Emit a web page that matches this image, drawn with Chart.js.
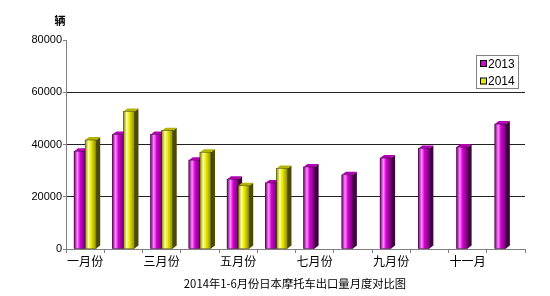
<!DOCTYPE html>
<html><head><meta charset="utf-8">
<script src="https://cdn.jsdelivr.net/npm/chart.js@4/dist/chart.umd.min.js"></script>
<style>html,body{margin:0;padding:0;background:#fff}#wrap{width:550px;height:296px;position:relative}</style>
</head><body><div id="wrap"><canvas id="c" width="550" height="296"></canvas></div>
<script>
const months = ['一月份','二月份','三月份','四月份','五月份','六月份','七月份','八月份','九月份','十月份','十一月','十二月'];
const sales2013 = [37400, 43800, 43800, 34000, 26700, 25300, 31400, 28400, 34800, 38500, 39000, 47800];
const sales2014 = [41700, 52600, 45300, 37000, 24200, 30800, null, null, null, null, null, null];
const yTicks = [0, 20000, 40000, 60000, 80000];
const unitLabel = '辆';
const chartTitle = '2014年1-6月份日本摩托车出口量月度对比图';
const seriesNames = ['2013', '2014'];

const palettes = [
  {base:'#d400d4', dark:'#700070', light:'#ff8cff', side:'#420042', top:'#b000b0'},
  {base:'#eaea00', dark:'#8a8a00', light:'#ffffa0', side:'#4a4a00', top:'#b4b400'}
];

const bar3d = {
  id:'bar3d',
  afterDatasetsDraw(chart){
    const ctx = chart.ctx;
    const metas = [chart.getDatasetMeta(0), chart.getDatasetMeta(1)];
    const d = 4, dv = 3;
    for (let i = 0; i < months.length; i++) {
      for (let s = 0; s < 2; s++) {
        const el = metas[s].data[i];
        const v = chart.data.datasets[s].data[i];
        if (!el || v === null || v === undefined) continue;
        const p = el.getProps(['x','y','base','width'], true);
        const l = p.x - p.width/2, r = p.x + p.width/2, t = p.y, b = p.base;
        const pal = palettes[s];
        ctx.fillStyle = pal.side;
        ctx.beginPath();
        ctx.moveTo(r, t); ctx.lineTo(r+d, t-dv); ctx.lineTo(r+d, b-dv); ctx.lineTo(r, b); ctx.closePath(); ctx.fill();
        ctx.fillStyle = pal.top;
        ctx.beginPath();
        ctx.moveTo(l, t); ctx.lineTo(l+d, t-dv); ctx.lineTo(r+d, t-dv); ctx.lineTo(r, t); ctx.closePath(); ctx.fill();
        const g = ctx.createLinearGradient(l, 0, r, 0);
        g.addColorStop(0, pal.dark);
        g.addColorStop(0.3, pal.light);
        g.addColorStop(0.55, pal.base);
        g.addColorStop(1, pal.dark);
        ctx.fillStyle = g;
        ctx.fillRect(l, t, r-l, b-t);
        ctx.strokeStyle = 'rgba(0,0,0,0.6)';
        ctx.lineWidth = 0.6;
        ctx.strokeRect(l, t, r-l, b-t);
      }
    }
  }
};

const decor = {
  id:'decor',
  afterDraw(chart){
    const ctx = chart.ctx;
    ctx.save();
    ctx.fillStyle = '#000';
    ctx.font = 'bold 11px "Noto Sans CJK SC"';
    ctx.textAlign = 'center'; ctx.textBaseline = 'middle';
    ctx.fillText(unitLabel, 60, 21);
    ctx.font = '11.3px "Noto Sans CJK SC"';
    ctx.fillText(chartTitle, 295, 284);
    const bx = 476, by = 55, bw = 42, bh = 33;
    ctx.fillStyle = '#fff';
    ctx.fillRect(bx, by, bw, bh);
    ctx.strokeStyle = '#808080'; ctx.lineWidth = 1;
    ctx.strokeRect(bx+0.5, by+0.5, bw, bh);
    ctx.font = '12px "Liberation Sans"';
    ctx.textAlign = 'left';
    chart.data.datasets.forEach((ds, k) => {
      const cy = k === 0 ? 64 : 81.5;
      ctx.fillStyle = ds.backgroundColor;
      ctx.fillRect(480, cy-3, 6, 6);
      ctx.strokeStyle = '#000';
      ctx.strokeRect(480.5, cy-3.5, 6, 6);
      ctx.fillStyle = '#000';
      ctx.fillText(ds.label, 488, cy+0.5);
    });
    ctx.restore();
  }
};

new Chart(document.getElementById('c'), {
  type:'bar',
  data:{
    labels: months,
    datasets:[
      {label: seriesNames[0], data: sales2013, backgroundColor: palettes[0].base, categoryPercentage: 0.58, barPercentage: 1},
      {label: seriesNames[1], data: sales2014, backgroundColor: palettes[1].base, categoryPercentage: 0.58, barPercentage: 1}
    ]
  },
  options:{
    responsive:false, animation:false,
    layout:{padding:{left:0, right:25, top:40, bottom:0}},
    plugins:{legend:{display:false}, tooltip:{enabled:false}, title:{display:false}},
    scales:{
      x:{
        afterFit(s){ s.height = 47; },
        grid:{drawOnChartArea:false, offset:true, tickLength:4, color:'#808080'},
        border:{color:'#808080', width:1},
        ticks:{autoSkip:false, maxRotation:0, padding:1, color:'#000', font:{family:'"Noto Sans CJK SC"', size:12},
          callback:(v,i)=> i % 2 === 0 ? months[i] : ''}
      },
      y:{
        min: yTicks[0], max: yTicks[yTicks.length-1],
        afterFit(s){ s.width = 66; },
        afterBuildTicks(s){ s.ticks = yTicks.map(v=>({value:v})); },
        grid:{tickLength:3, color:(c)=> (c.tick && (c.tick.value===0 || c.tick.value===80000)) ? 'rgba(0,0,0,0)' : '#202020',
              tickColor:'#808080'},
        border:{color:'#808080', width:1},
        ticks:{padding:1, color:'#000', font:{family:'"Liberation Sans"', size:11}, callback:(v)=> String(v)}
      }
    }
  },
  plugins:[bar3d, decor]
});
</script></body></html>
